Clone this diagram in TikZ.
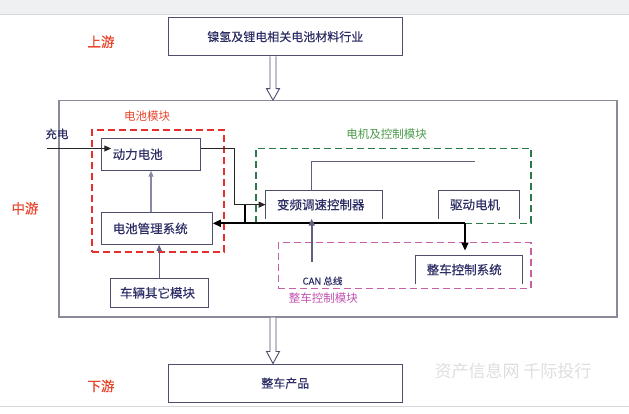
\documentclass[tikz,border=0pt]{standalone}
\usepackage{fontspec}
\setmainfont{Noto Sans CJK SC}
\newfontfamily\medfont{Noto Sans CJK SC}[FakeBold=0.35]
\usetikzlibrary{calc,arrows.meta}
\definecolor{navy}{HTML}{2E2E66}
\definecolor{boxc}{HTML}{4D4D6E}
\definecolor{mainc}{HTML}{8A8A98}
\definecolor{redl}{HTML}{E8452C}
\definecolor{redd}{HTML}{E62E2E}
\definecolor{greend}{HTML}{2A7A4A}
\definecolor{greenl}{HTML}{4A9A4A}
\definecolor{pinkd}{HTML}{C860A8}
\definecolor{pinkl}{HTML}{C050B0}
\definecolor{bandc}{HTML}{EFF0F2}
\definecolor{bandl}{HTML}{D6D6DC}
\definecolor{wmark}{HTML}{DEDEDE}
\definecolor{lightarr}{HTML}{8888AA}
\definecolor{slatearr}{HTML}{60607E}
\begin{document}
\begin{tikzpicture}[x=1pt,y=-1pt,
  every node/.style={inner sep=0pt, text=navy},
  obox/.style={draw=boxc, line width=0.9pt, minimum width=234pt, minimum height=38.5pt, font=\medfont\fontsize{12}{14}\selectfont},
  inbox/.style={draw=boxc, line width=0.9pt, align=left, inner xsep=11pt, font=\medfont\fontsize{12.5}{14}\selectfont},
  openbox/.style={inbox, draw=none},
  openline/.style={draw=boxc, line width=0.9pt},
  redbox/.style={draw=redd, line width=1.6pt, dash pattern=on 7pt off 4pt},
  greenbox/.style={draw=greend, line width=1.5pt, dash pattern=on 7pt off 4pt},
  pinkbox/.style={draw=pinkd, line width=1.3pt, dash pattern=on 7pt off 4pt},
  stage/.style={text=redl, font=\medfont\fontsize{13.5}{15}\selectfont},
  modlabel/.style={font=\fontsize{11.5}{13}\selectfont},
  hol/.style={draw=boxc, fill=white, line width=0.9pt},
  blk/.style={draw=black!85, line width=1.1pt, -{Triangle[length=7pt,width=6pt]}},
  bus/.style={draw=black, line width=1.6pt, -{Triangle[length=8pt,width=7pt]}}
]
\useasboundingbox (0,0) rectangle (629,414);
% page bands
\fill[bandc] (0,0) rectangle (629,14.3);
\draw[bandl, line width=0.8pt] (0,14.3) -- (629,14.3);
\draw[bandl, line width=0.8pt] (0,406.7) -- (629,406.7);

% outer boxes
\node[obox] (top) at (285.3,36.7) {镍氢及锂电相关电池材料行业};
\node[draw=mainc, line width=1.1pt, minimum width=558pt, minimum height=216.3pt] (main) at (338,208.85) {};
\node[obox] (bottom) at (285.3,383.2) {整车产品};

% stage labels
\node[stage] (up) at (101,41.7) {上游};
\node[stage] (mid) at (25,208.3) {中游};
\node[stage] (down) at (101,386) {下游};

% module frames
\node[redbox, minimum width=132pt, minimum height=122pt] (batmod) at (158,191) {};
\node[greenbox, minimum width=275pt, minimum height=75pt] (motmod) at (393.5,185.8) {};
\node[pinkbox, minimum width=252.7pt, minimum height=45.6pt] (vcumod) at (404.65,265.5) {};
\node[modlabel, text=redl] (batlab) at (147,116) {电池模块};
\node[modlabel, text=greenl] (motlab) at (386.7,134) {电机及控制模块};
\node[modlabel, text=pinkl] (vculab) at (323.3,297.7) {整车控制模块};

% inner boxes
\node[inbox, text width=76.6pt, minimum height=32pt] (dl) at (151,154.3) {动力电池};
\node[inbox, text width=88.6pt, minimum height=31.6pt] (bms) at (157,228.5) {电池管理系统};
\node[inbox, inner xsep=10pt, text width=78.3pt, minimum height=29pt] (other) at (159.15,292.8) {车辆其它模块};
\node[openbox, text width=93.7pt, minimum height=27.3pt] (vf) at (323.85,204.65) {变频调速控制器};
\node[openbox, text width=58.3pt, minimum height=27.3pt] (dm) at (479.15,204.65) {驱动电机};
\node[openbox, text width=84pt, minimum height=27.3pt] (vcu) at (468.7,269.65) {整车控制系统};
\foreach \n in {vf,dm,vcu}
  \draw[openline] (\n.south west) -- (\n.north west) -- (\n.north east) -- (\n.south east);

% small labels
\node[font=\medfont\fontsize{11.5}{13}\selectfont] (chglab) at (57,134) {充电};
\node[font=\medfont\fontsize{9.5}{11}\selectfont] (canlab) at (322.5,281) {CAN 总线};
\node[text=wmark, font=\fontsize{17}{19}\selectfont] (wm) at (513,370.7) {资产信息网 千际投行};

% hollow flow arrows
\coordinate (ax) at (273,0);
\coordinate (s1) at (top.south -| ax);
\coordinate (e1) at (main.north -| ax);
\draw[hol] ($(s1)+(-3,0)$) -- ($(e1)+(-3,-11.5)$) -- ($(e1)+(-6.5,-11.5)$) -- (e1) -- ($(e1)+(6.5,-11.5)$) -- ($(e1)+(3,-11.5)$) -- ($(s1)+(3,0)$);
\coordinate (s2) at (main.south -| ax);
\coordinate (e2) at (bottom.north -| ax);
\draw[hol] ($(s2)+(-3,0)$) -- ($(e2)+(-3,-12)$) -- ($(e2)+(-6.5,-12)$) -- (e2) -- ($(e2)+(6.5,-12)$) -- ($(e2)+(3,-12)$) -- ($(s2)+(3,0)$);

% connectors
\coordinate (chg) at (47,148.5);
\draw[blk, shorten >=-10pt] (chg) -- (chg -| dl.west);
\coordinate (jx) at (234.3,0);
\draw[blk] (chg -| dl.east) -| (jx |- vf.west) -- (vf.west);
\coordinate (busR) at (465,223.3);
\coordinate (bx) at (245,0);
\draw[draw=black, line width=1.1pt] (bx |- vf.west) -- (bx |- busR);
\draw[bus] (busR) -- (busR -| bms.east);
\draw[bus, shorten >=5pt] (busR) -- (busR |- vcu.north);
\draw[draw=lightarr, line width=1.2pt, -{Triangle[length=6pt,width=5pt]}] (dl.south |- bms.north) -- (dl.south);
\draw[draw=slatearr, line width=1.2pt, -{Triangle[length=6pt,width=5pt]}] (other.north) -- (other.north |- bms.south);
\coordinate (t1) at (311.7,161.3);
\coordinate (t2) at (475,161.3);
\draw[draw=slatearr, line width=0.8pt] (t1 |- vf.north) -- (t1) -- (t2);
\coordinate (cb) at (311.7,261.7);
\draw[draw=slatearr, line width=1.8pt, -{Triangle[length=7pt,width=6pt]}] (cb) -- (cb |- vf.south);
\end{tikzpicture}
\end{document}
